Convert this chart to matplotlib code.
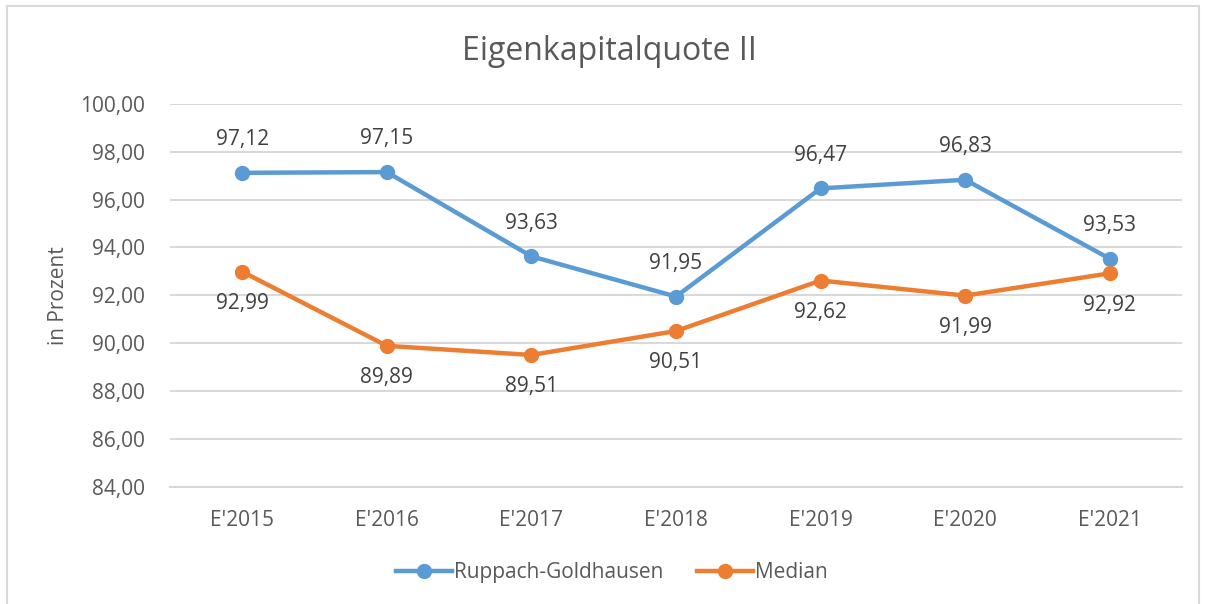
import matplotlib.pyplot as plt
from matplotlib.ticker import FuncFormatter

jahre = ["E'2015", "E'2016", "E'2017", "E'2018", "E'2019", "E'2020", "E'2021"]
ruppach = [97.12, 97.15, 93.63, 91.95, 96.47, 96.83, 93.53]
median = [92.99, 89.89, 89.51, 90.51, 92.62, 91.99, 92.92]

blau = '#5B9BD5'
orange = '#ED7D31'
grau_text = '#595959'
grau_linie = '#D9D9D9'

plt.rcParams['font.family'] = ['Open Sans', 'DejaVu Sans']

fig = plt.figure(figsize=(12.05, 6.04), dpi=100)
ax = fig.add_axes([0.141, 0.194, 0.840, 0.634])

x = range(len(jahre))
ax.plot(x, ruppach, '-o', color=blau, lw=3.2, ms=10, label='Ruppach-Goldhausen', zorder=3)
ax.plot(x, median, '-o', color=orange, lw=3.2, ms=10, label='Median', zorder=3)

# Werte beschriften: blau oberhalb, orange unterhalb
for i, v in enumerate(ruppach):
    ax.annotate(f'{v:.2f}'.replace('.', ','), (i, v), xytext=(0, 24), textcoords='offset points',
                ha='center', va='center', fontsize=15, color='#404040')
for i, v in enumerate(median):
    ax.annotate(f'{v:.2f}'.replace('.', ','), (i, v), xytext=(0, -23), textcoords='offset points',
                ha='center', va='center', fontsize=15, color='#404040')

ax.set_xlim(-0.5, len(jahre) - 0.5)
ax.set_ylim(84, 100)
ax.set_yticks(range(84, 101, 2))
ax.yaxis.set_major_formatter(FuncFormatter(lambda v, p: f'{v:.2f}'.replace('.', ',')))
ax.set_xticks(list(x))
ax.set_xticklabels(jahre)
ax.tick_params(axis='both', length=0, labelsize=15, colors=grau_text)
ax.tick_params(axis='y', pad=18)
ax.tick_params(axis='x', pad=17)
ax.grid(axis='y', color=grau_linie, lw=1.5)
ax.set_axisbelow(True)
for s in ['top', 'right', 'left']:
    ax.spines[s].set_visible(False)
ax.spines['bottom'].set_color(grau_linie)
ax.spines['bottom'].set_linewidth(1.5)

ax.set_ylabel('in Prozent', fontsize=15, color=grau_text, labelpad=8)
fig.text(0.506, 0.915, 'Eigenkapitalquote II', ha='center', va='center', fontsize=23, color=grau_text)

leg = fig.legend(loc='center', bbox_to_anchor=(0.508, 0.052), ncol=2, frameon=False,
                 fontsize=15, handlelength=2.7, columnspacing=1.6, handletextpad=0.1)
for t in leg.get_texts():
    t.set_color(grau_text)

# Rahmen um den Diagrammbereich
fig.patches.append(plt.Rectangle((7 / 1205, -0.02), 1192 / 1205, 1 - 6 / 604 + 0.02,
                                 transform=fig.transFigure, fill=False, ec=grau_linie, lw=1.5))

fig.savefig('out.png', dpi=100)
